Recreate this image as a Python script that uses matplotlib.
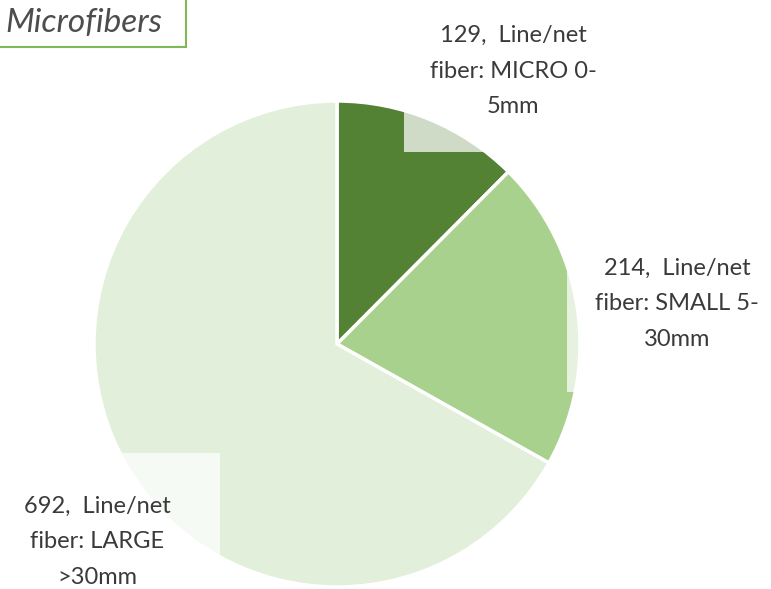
import matplotlib.pyplot as plt
from matplotlib.patches import Rectangle

# data
values = [129, 214, 692]
names = ["Line/net\nfiber: MICRO 0-\n5mm",
         "Line/net\nfiber: SMALL 5-\n30mm",
         "Line/net\nfiber: LARGE\n>30mm"]
colors = ['#548235', '#A9D18E', '#E2EFDA']
title = "Microfibers"

W, H = 771, 589
fig = plt.figure(figsize=(W / 100, H / 100), dpi=100)
ax = fig.add_axes([0, 0, 1, 1])

# pie, drawn in pixel-like coords (y up)
cx, cy, r = 337, H - 344, 243
ax.pie(values, colors=colors, startangle=90, counterclock=False,
       center=(cx, cy), radius=r, frame=True,
       wedgeprops=dict(edgecolor='white', linewidth=2.5))
ax.set_xlim(0, W)
ax.set_ylim(0, H)
ax.set_aspect('equal')
ax.axis('off')

# half-transparent label boxes (as in the original export)
for (x0, y0, x1, y1) in [(404, 0, 640, 152), (567, 255, 771, 392), (0, 453, 220, 589)]:
    ax.add_patch(Rectangle((x0, H - y1), x1 - x0, y1 - y0, facecolor='white',
                           edgecolor='none', alpha=0.72, zorder=5))

# data labels
font = 'Lato'
pos = [(513, 71), (677, 304), (97, 542)]
for v, n, (x, y) in zip(values, names, pos):
    ax.text(x, H - y, f"{v},  {n}", ha='center', va='center', fontsize=17,
            family=font, color='#3A3A3A', linespacing=1.85, zorder=6)

# title box
ax.add_patch(Rectangle((-5, H - 47), 191, 60, facecolor='white',
                       edgecolor='#7CBB54', linewidth=1.5, zorder=6))
ax.text(5, H - 23, title, ha='left', va='center', fontsize=24, style='italic',
        family=font, color='#4D4D4D', zorder=7)

fig.savefig('out.png', dpi=100)
